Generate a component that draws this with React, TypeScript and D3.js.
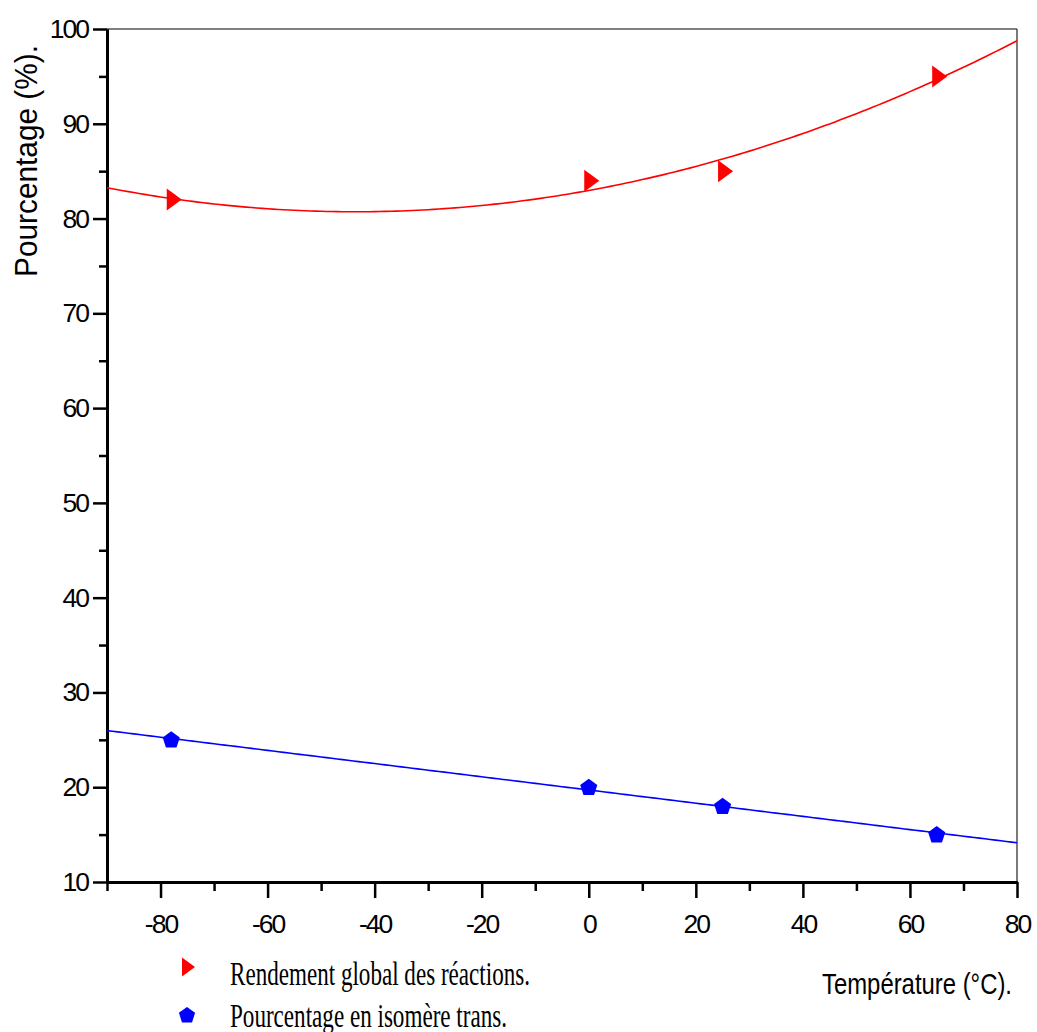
import React, { useEffect, useRef } from 'react';
import * as d3 from 'd3';

// measured points
const temperatures = [-78, 0, 25, 65];
const rendementGlobal = [82, 84, 85, 95];
const isomereTrans = [25, 20, 18, 15];

const xMajorTicks = [-80, -60, -40, -20, 0, 20, 40, 60, 80];
const xMinorTicks = [-90, -70, -50, -30, -10, 10, 30, 50, 70];
const yMajorTicks = [10, 20, 30, 40, 50, 60, 70, 80, 90, 100];
const yMinorTicks = [15, 25, 35, 45, 55, 65, 75, 85, 95];

const legendLabels = ['Rendement global des réactions.', 'Pourcentage en isomère trans.'];

// least squares polynomial fit (normal equations + gauss elimination)
function polyFit(xs: number[], ys: number[], degree: number): number[] {
    const n = degree + 1;
    const A: number[][] = [];
    for (let i = 0; i < n; i++) {
        const row: number[] = [];
        for (let j = 0; j < n; j++) row.push(d3.sum(xs, (x) => Math.pow(x, i + j)));
        row.push(d3.sum(xs, (x, k) => Math.pow(x, i) * ys[k]));
        A.push(row);
    }
    for (let c = 0; c < n; c++) {
        let p = c;
        for (let r = c + 1; r < n; r++) if (Math.abs(A[r][c]) > Math.abs(A[p][c])) p = r;
        [A[c], A[p]] = [A[p], A[c]];
        for (let r = 0; r < n; r++) {
            if (r === c) continue;
            const f = A[r][c] / A[c][c];
            for (let k = c; k <= n; k++) A[r][k] -= f * A[c][k];
        }
    }
    return A.map((row, i) => row[n] / row[i]);
}

const App = () => {
    const chartRef = useRef<SVGSVGElement | null>(null);

    useEffect(() => {
        const width = 1037;
        const height = 1032;
        const margin = { top: 29, right: 20, bottom: 150, left: 107 };
        const plotRight = width - margin.right;
        const plotBottom = height - margin.bottom;

        const x = d3.scaleLinear().domain([-90, 80]).range([margin.left, plotRight]);
        const y = d3.scaleLinear().domain([10, 100]).range([plotBottom, margin.top]);

        const svg = d3.select(chartRef.current);
        svg.selectAll('*').remove();

        svg.append('defs')
            .append('clipPath')
            .attr('id', 'plot-clip')
            .append('rect')
            .attr('x', margin.left)
            .attr('y', margin.top)
            .attr('width', plotRight - margin.left)
            .attr('height', plotBottom - margin.top);

        // frame (top + right thin lines)
        svg.append('line')
            .attr('x1', margin.left).attr('x2', plotRight)
            .attr('y1', margin.top).attr('y2', margin.top)
            .attr('stroke', '#555').attr('stroke-width', 1.6);
        svg.append('line')
            .attr('x1', plotRight).attr('x2', plotRight)
            .attr('y1', margin.top).attr('y2', plotBottom)
            .attr('stroke', '#222').attr('stroke-width', 1.2);

        const styleAxis = (g: any) => {
            g.select('.domain').attr('stroke', '#000').attr('stroke-width', 3);
            g.selectAll('.tick line').attr('stroke', '#000').attr('stroke-width', 2.5);
            g.selectAll('.tick text')
                .attr('fill', '#000')
                .style('font-family', '"Liberation Sans", Arial, sans-serif')
                .style('font-size', '26.5px')
                .style('letter-spacing', '-2px');
        };

        // minor ticks
        svg.append('g')
            .attr('transform', `translate(0,${plotBottom})`)
            .call(d3.axisBottom(x).tickValues(xMinorTicks).tickSize(9).tickSizeOuter(0).tickFormat(() => ''))
            .call(styleAxis);
        svg.append('g')
            .attr('transform', `translate(${margin.left},0)`)
            .call(d3.axisLeft(y).tickValues(yMinorTicks).tickSize(8).tickSizeOuter(0).tickFormat(() => ''))
            .call(styleAxis);

        // major ticks + labels
        svg.append('g')
            .attr('transform', `translate(0,${plotBottom})`)
            .call(d3.axisBottom(x).tickValues(xMajorTicks).tickSize(16).tickSizeOuter(0).tickPadding(16).tickFormat((d) => String(d)))
            .call(styleAxis);
        svg.append('g')
            .attr('transform', `translate(${margin.left},0)`)
            .call(d3.axisLeft(y).tickValues(yMajorTicks).tickSize(14).tickSizeOuter(0).tickPadding(5).tickFormat((d) => String(d)))
            .call(styleAxis);

        // fitted curves
        const redFit = polyFit(temperatures, rendementGlobal, 2);
        const blueFit = polyFit(temperatures, isomereTrans, 1);
        const evalPoly = (c: number[], t: number) => c.reduce((s, ci, i) => s + ci * Math.pow(t, i), 0);
        const curveX = d3.range(-90, 80.5, 1);
        const line = (coef: number[]) =>
            d3.line<number>().x((t) => x(t)).y((t) => y(evalPoly(coef, t)))(curveX);

        const plot = svg.append('g').attr('clip-path', 'url(#plot-clip)');
        plot.append('path').attr('d', line(redFit)).attr('fill', 'none').attr('stroke', '#ff0000').attr('stroke-width', 1.6);
        plot.append('path').attr('d', line(blueFit)).attr('fill', 'none').attr('stroke', '#0000ff').attr('stroke-width', 1.6);

        // marker shapes
        const triangle = 'M-4.5,-11L10.5,0L-4.5,11Z';
        const pentagon = (r: number) =>
            d3.range(5).map((i) => {
                const a = -Math.PI / 2 + (i * 2 * Math.PI) / 5;
                return `${i ? 'L' : 'M'}${(r * Math.cos(a)).toFixed(2)},${(r * Math.sin(a)).toFixed(2)}`;
            }).join('') + 'Z';

        svg.append('g')
            .selectAll('path')
            .data(temperatures)
            .enter()
            .append('path')
            .attr('d', triangle)
            .attr('transform', (d, i) => `translate(${x(d)},${y(rendementGlobal[i])})`)
            .attr('fill', '#ff0000');

        svg.append('g')
            .selectAll('path')
            .data(temperatures)
            .enter()
            .append('path')
            .attr('d', pentagon(9))
            .attr('transform', (d, i) => `translate(${x(d)},${y(isomereTrans[i]) + 0.5})`)
            .attr('fill', '#0000ff');

        // axis titles
        svg.append('text')
            .attr('transform', 'translate(37,161) rotate(-90)')
            .attr('text-anchor', 'middle')
            .attr('textLength', 232)
            .attr('lengthAdjust', 'spacingAndGlyphs')
            .style('font-family', '"Liberation Sans", Arial, sans-serif')
            .style('font-size', '32px')
            .text('Pourcentage (%).');

        svg.append('text')
            .attr('x', 822)
            .attr('y', 994)
            .attr('textLength', 190)
            .attr('lengthAdjust', 'spacingAndGlyphs')
            .style('font-family', '"Liberation Sans", Arial, sans-serif')
            .style('font-size', '30px')
            .text('Température (°C).');

        // legend
        const legend = svg.append('g');
        legend.append('path').attr('d', 'M-6,-9.5L7,0L-6,9.5Z').attr('transform', 'translate(188,967)').attr('fill', '#ff0000');
        legend.append('path').attr('d', pentagon(8.5)).attr('transform', 'translate(187,1015.5)').attr('fill', '#0000ff');
        legend.selectAll('text')
            .data(legendLabels)
            .enter()
            .append('text')
            .attr('x', 230)
            .attr('y', (d, i) => (i === 0 ? 985 : 1027))
            .attr('textLength', (d, i) => (i === 0 ? 300 : 277))
            .attr('lengthAdjust', 'spacingAndGlyphs')
            .style('font-family', '"Liberation Serif", "Times New Roman", serif')
            .style('font-size', '33px')
            .text((d) => d);
    }, []);

    return (
        <svg
            ref={chartRef}
            width={1037}
            height={1032}
            style={{ position: 'absolute', left: 0, top: 0, background: '#fff' }}
        />
    );
};

export default App;
